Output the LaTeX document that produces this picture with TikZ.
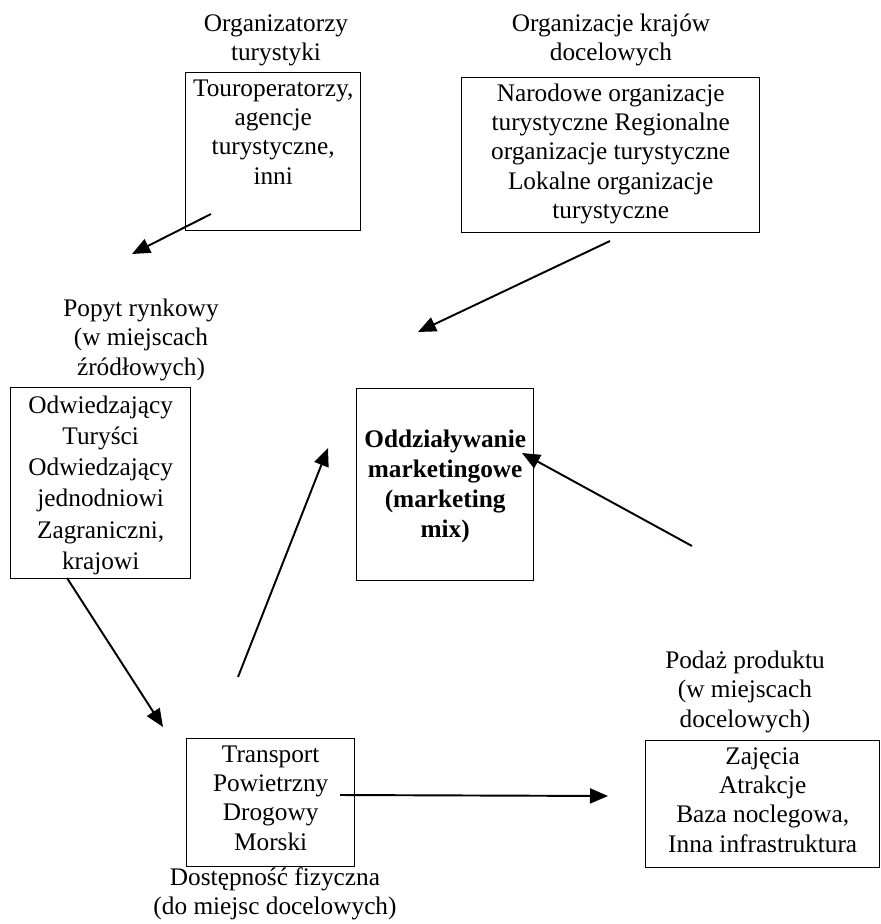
\documentclass[tikz,border=0pt]{standalone}
\usepackage{fontspec}
\setmainfont{Liberation Serif}
\usetikzlibrary{arrows.meta}

% text of a framed field: width, height, lines
\newcommand\feld[4][t]{\parbox[t][#3][#1]{#2}{\centering\strut #4}}

\begin{document}
\begin{tikzpicture}[x=0.02cm, y=-0.02cm,
	font=\fontsize{14.4}{16.6}\selectfont,
	kasten/.style={draw, line width=0.8pt, anchor=north west, inner xsep=0pt, inner ysep=2pt},
	titel/.style={anchor=north, inner sep=0pt, align=center},
	pfeil/.style={line width=1.1pt, -{Triangle[length=0.36cm, width=0.3cm]}}]
			\useasboundingbox (0,0) rectangle (881,924);

			% boxes
			\node[kasten] (orgT) at (185,72) {\feld{3.5cm}{3.02cm}{Touroperatorzy,\\ agencje\\ turystyczne,\\ inni}};
			\node[kasten] (orgK) at (461,77) {\feld{5.96cm}{2.96cm}{Narodowe organizacje\\ turystyczne Regionalne\\ organizacje turystyczne\\ Lokalne organizacje\\ turystyczne}};
			\node[kasten, font=\fontsize{14.4}{17.8}\selectfont] (popyt) at (10,387) {\feld{3.6cm}{3.68cm}{Odwiedzający\\ Turyści\\ Odwiedzający\\ jednodniowi\\ Zagraniczni,\\ krajowi}};
			\node[kasten, font=\fontsize{14.4}{17}\selectfont\bfseries] (mix) at (356,388) {\feld[c]{3.54cm}{3.7cm}{Oddziaływanie\\ marketingowe\\ (marketing\\ mix)}};
			\node[kasten] (transp) at (186,738) {\feld{3.36cm}{2.42cm}{Transport\\ Powietrzny\\ Drogowy\\ Morski}};
			\node[kasten] (podaz) at (645,740) {\feld{4.68cm}{2.4cm}{Zajęcia\\ Atrakcje\\ Baza noclegowa,\\ Inna infrastruktura}};

			% titles
			\node[titel] (orgTlabel) at (276,11) {\strut Organizatorzy\\ turystyki};
			\node[titel] (orgKlabel) at (611,11) {\strut Organizacje krajów\\ docelowych};
			\node[titel] (popytlabel) at (141,296) {\strut Popyt rynkowy\\ (w miejscach\\ źródłowych)};
			\node[titel] (podazlabel) at (745,648) {\strut Podaż produktu\\ (w miejscach\\ docelowych)};
			\node[titel] (transplabel) at (275,865) {\strut Dostępność fizyczna\\ (do miejsc docelowych)};

			% free arrow ends
			\coordinate (a1) at (211,214);  \coordinate (b1) at (132,254);
			\coordinate (a2) at (610,241);  \coordinate (b2) at (418,332);
			\coordinate (a3) at (67,578);   \coordinate (b3) at (163,727);
			\coordinate (a4) at (238,677);  \coordinate (b4) at (328,448);
			\coordinate (a5) at (692,546);  \coordinate (b5) at (522,453);
			\coordinate (a6) at (340,795);  \coordinate (b6) at (608,796);

			\foreach \i in {1,...,6}
				\draw[pfeil] (a\i) -- (b\i);
		\end{tikzpicture}
\end{document}
